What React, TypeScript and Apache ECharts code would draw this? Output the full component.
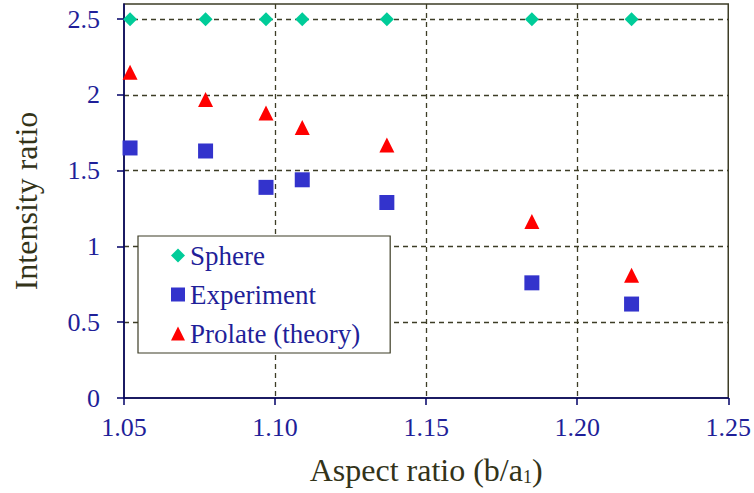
import React, { useEffect, useRef } from "react";
import * as echarts from "echarts";

const aspectRatio = [1.052, 1.077, 1.097, 1.109, 1.137, 1.185, 1.218];
const sphere = [2.5, 2.5, 2.5, 2.5, 2.5, 2.5, 2.5];
const experiment = [1.65, 1.63, 1.39, 1.44, 1.29, 0.76, 0.62];
const prolate = [2.15, 1.97, 1.88, 1.785, 1.67, 1.165, 0.81];
const yTicks = [0, 0.5, 1, 1.5, 2, 2.5];
const seriesNames = ["Sphere", "Experiment", "Prolate (theory)"];

const FONT = "Times New Roman, Liberation Serif, serif";
const NAVY_TEXT = "#1f1f99";
const AXIS_NAVY = "#000066";
const OLIVE = "#333319";
const GRID = "#3d3d26";

export default function App() {
  const ref = useRef<HTMLDivElement>(null);
  useEffect(() => {
    if (!ref.current) return;
    const chart = echarts.init(ref.current, null, { renderer: "svg" });
    const pair = (ys: number[]) => aspectRatio.map((x, i) => [x, ys[i]]);
    chart.setOption({
      animation: false,
      backgroundColor: "#ffffff",
      textStyle: { fontFamily: FONT },
      grid: {
        left: 124,
        right: 25,
        top: 4,
        bottom: 95,
        show: true,
        borderColor: GRID,
        borderWidth: 1.5,
        backgroundColor: "transparent",
      },
      legend: {
        orient: "vertical",
        left: 138,
        top: 236,
        padding: [6, 30, 6, 33],
        itemGap: 12,
        itemWidth: 14,
        itemHeight: 14,
        backgroundColor: "#ffffff",
        borderColor: GRID,
        borderWidth: 1.2,
        itemStyle: { opacity: 1 },
        textStyle: {
          fontFamily: FONT,
          fontSize: 27,
          lineHeight: 26,
          color: NAVY_TEXT,
        },
        data: [
          { name: seriesNames[0], icon: "diamond" },
          { name: seriesNames[1], icon: "rect" },
          { name: seriesNames[2], icon: "triangle" },
        ],
      },
      xAxis: {
        type: "value",
        min: 1.05,
        max: 1.25,
        interval: 0.05,
        name: "Aspect ratio (b/a{sub|1})",
        nameLocation: "middle",
        nameGap: 56,
        nameTextStyle: {
          fontFamily: FONT,
          fontSize: 32,
          color: OLIVE,
          rich: {
            sub: { fontFamily: FONT, fontSize: 18, color: OLIVE, verticalAlign: "bottom", padding: [12, 0, 0, 0] },
          },
        },
        axisLine: { show: true, onZero: false, lineStyle: { color: AXIS_NAVY, width: 1.5 } },
        axisTick: { show: true, length: 7, lineStyle: { color: AXIS_NAVY, width: 1.5 } },
        axisLabel: {
          fontFamily: FONT,
          fontSize: 26,
          color: NAVY_TEXT,
          margin: 16,
          formatter: (v: number) => v.toFixed(2),
        },
        splitLine: {
          show: true,
          showMinLine: false,
          showMaxLine: false,
          lineStyle: { color: GRID, type: [5, 4], width: 1.3 },
        },
      },
      yAxis: {
        type: "value",
        min: 0,
        max: 2.6,
        interval: 0.5,
        name: "Intensity ratio",
        nameLocation: "middle",
        nameGap: 82,
        nameTextStyle: { fontFamily: FONT, fontSize: 32, color: OLIVE },
        axisLine: { show: true, onZero: false, lineStyle: { color: AXIS_NAVY, width: 1.5 } },
        axisTick: { show: true, length: 7, customValues: yTicks, lineStyle: { color: AXIS_NAVY, width: 1.5 } },
        axisLabel: {
          fontFamily: FONT,
          fontSize: 26,
          color: NAVY_TEXT,
          margin: 24,
          customValues: yTicks,
        },
        splitLine: {
          show: true,
          showMinLine: false,
          showMaxLine: true,
          lineStyle: { color: GRID, type: [5, 4], width: 1.3 },
        },
      },
      series: [
        {
          name: seriesNames[0],
          type: "scatter",
          symbol: "diamond",
          symbolSize: 14,
          itemStyle: { color: "#00cc99", opacity: 1 },
          data: pair(sphere),
          z: 3,
        },
        {
          name: seriesNames[1],
          type: "scatter",
          symbol: "rect",
          symbolSize: 15,
          itemStyle: { color: "#3333cc", opacity: 1 },
          data: pair(experiment),
          z: 3,
        },
        {
          name: seriesNames[2],
          type: "scatter",
          symbol: "triangle",
          symbolSize: 15,
          itemStyle: { color: "#ff0000", opacity: 1 },
          data: pair(prolate),
          z: 3,
        },
      ],
    });
    return () => chart.dispose();
  }, []);
  return <div ref={ref} style={{ width: 754, height: 493, position: "absolute", left: 0, top: 0 }} />;
}
